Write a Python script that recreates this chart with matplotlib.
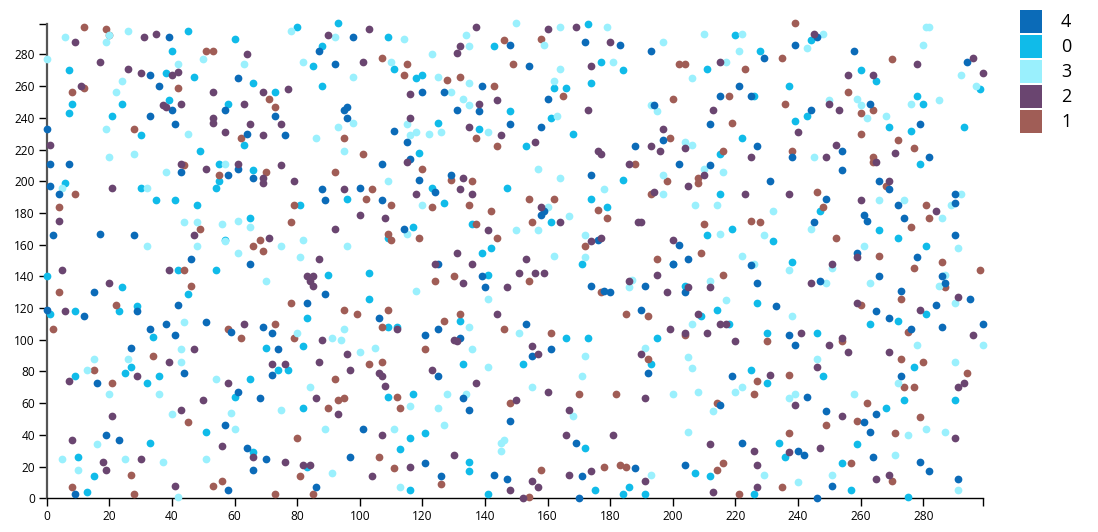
import matplotlib
matplotlib.use('Agg')
import matplotlib.pyplot as plt
from matplotlib.patches import Rectangle

# values, one pair of lists for each group
x4 = [39,33,61,36,40,57,33,73,41,64,0,1,7,43,61,58,66,
      98,148,87,92,139,76,120,127,131,138,96,95,96,148,111,115,107,116,129,119,
      172,183,193,154,160,221,215,225,194,158,212,197,188,227,202,212,174,
      246,239,229,258,294,263,279,244,254,238,282,254,231,266,
      1,4,2,17,28,46,65,15,42,29,0,12,38,51,69,72,59,33,41,
      88,100,124,89,107,114,125,139,140,89,83,106,121,125,132,
      158,159,176,202,205,200,225,227,191,204,174,178,180,190,153,
      269,249,272,290,290,261,262,274,245,290,259,278,266,286,287,247,273,295,284,233,265,269,286,299,276,237,
      27,74,44,72,16,61,68,57,19,23,64,70,66,9,58,
      125,133,135,148,101,97,121,143,147,126,86,
      155,161,192,219,215,222,169,171,188,204,170,
      239,243,273,249,265,261,263,240,242,264,279,282,291,251,246]
y4 = [291,267,265,260,245,245,241,241,236,230,233,211,211,206,208,204,202,
      291,286,282,274,260,229,256,256,245,244,247,245,240,236,232,225,211,214,204,201,
      288,286,282,273,252,260,254,254,248,234,236,226,222,222,211,210,204,
      291,286,278,282,275,249,236,245,219,215,215,207,200,200,
      197,192,166,167,166,151,148,130,122,118,119,115,110,111,108,104,105,107,103,
      195,196,193,188,188,170,148,140,133,129,123,114,103,107,101,
      179,181,163,160,151,148,147,136,134,130,134,131,130,119,110,
      195,189,185,192,186,179,175,177,174,166,155,152,140,140,136,137,131,126,122,121,118,114,108,110,107,103,
      95,94,79,78,73,67,63,46,40,37,32,25,18,3,5,
      77,63,56,49,44,26,22,15,12,14,7,
      90,94,79,77,59,35,35,14,19,21,0,
      97,64,77,55,53,48,42,30,27,26,23,17,12,8,0]

x0 = [45,40,60,38,47,66,73,7,8,7,24,21,39,58,30,63,49,55,66,
      80,93,109,143,88,85,111,118,120,88,148,125,138,119,
      173,228,177,184,211,220,162,166,174,226,161,168,222,153,215,184,
      244,260,265,237,278,280,298,243,239,269,276,293,279,
      6,30,54,55,35,41,48,65,57,0,42,54,24,45,29,23,1,9,34,
      123,147,96,127,81,117,136,109,142,139,90,103,141,103,83,132,109,112,
      215,174,179,161,219,211,171,200,204,227,214,209,218,166,173,195,
      247,266,272,232,281,238,281,272,263,230,246,
      70,74,27,25,9,36,32,65,60,51,33,66,10,15,13,
      82,133,77,109,117,82,121,116,113,83,135,135,116,141,
      152,193,225,172,207,212,175,184,186,191,226,
      277,248,230,274,290,268,234,259,236,254,257,275]
y0 = [295,282,290,268,266,262,256,270,249,243,249,241,251,249,229,223,219,211,207,
      297,300,291,285,285,273,271,265,267,260,244,237,233,218,
      299,282,275,270,271,292,259,259,262,254,240,230,227,222,217,201,
      289,270,263,260,254,249,258,241,238,234,232,234,211,
      199,196,196,200,188,188,185,177,163,140,144,144,133,129,121,118,116,118,102,
      196,196,189,186,185,171,173,164,158,155,141,142,141,126,114,112,108,108,
      192,189,184,174,170,166,148,148,134,123,119,115,110,101,101,101,
      181,169,164,162,159,149,116,112,110,104,104,
      95,81,83,79,77,77,73,75,64,42,35,29,26,14,4,
      96,85,81,64,66,57,41,38,31,20,23,17,5,3,
      85,85,81,32,16,14,5,3,7,3,3,
      83,77,73,62,62,57,35,34,26,22,5,1]

x3 = [6,20,19,26,50,63,0,42,24,22,19,45,20,28,57,38,
      78,92,114,134,150,135,82,110,123,98,125,135,129,133,135,98,93,115,116,118,122,126,141,86,95,109,
      164,179,159,197,210,222,221,164,181,217,206,162,193,195,163,204,206,157,210,216,197,164,
      248,243,281,282,280,292,297,250,259,260,262,268,276,285,245,
      5,32,44,48,56,61,65,57,32,48,61,75,70,44,
      120,115,150,82,96,81,118,141,135,95,80,91,94,151,
      178,197,207,214,160,167,157,215,172,172,162,222,226,187,186,212,217,206,
      266,274,292,289,232,286,244,229,261,291,237,251,287,285,263,249,290,238,
      43,43,26,15,13,54,20,36,40,59,75,60,16,5,25,37,51,10,42,
      105,100,136,141,84,128,134,116,125,127,89,111,146,145,145,91,113,
      191,172,205,206,171,155,222,220,200,208,213,168,205,193,
      278,299,246,290,272,237,239,258,271,281,275,287,229,251,240,291]
y3 = [291,292,288,295,277,274,277,274,263,256,233,230,215,217,211,206,
      295,291,290,292,300,285,275,275,280,266,266,262,256,252,248,237,234,236,229,231,230,231,231,227,219,200,
      297,297,286,288,293,293,282,271,275,275,265,263,248,244,241,225,223,208,208,206,204,202,
      293,284,297,297,286,267,260,251,252,248,240,241,249,251,215,
      196,196,174,174,173,175,171,162,159,159,155,159,137,111,
      185,167,169,163,159,152,131,126,108,107,104,101,100,104,
      195,192,185,185,184,178,169,167,166,152,153,153,148,138,133,137,125,110,
      188,188,192,185,181,177,170,166,159,158,144,145,141,134,136,136,123,115,
      94,86,88,88,81,75,66,66,53,54,56,44,34,25,25,23,25,18,1,
      95,92,94,83,70,66,66,58,57,46,44,44,37,35,30,16,7,
      95,90,89,82,77,70,70,67,66,67,55,52,42,15,
      97,97,88,86,73,63,66,66,27,44,40,42,15,15,10,5]

x2 = [9,31,35,64,17,26,30,40,42,11,53,69,37,38,43,63,53,53,57,65,75,69,1,43,51,61,75,69,
      90,103,137,132,131,101,77,116,138,144,116,135,145,115,133,79,
      160,169,180,174,215,173,213,197,156,193,196,204,176,177,186,225,210,
      245,278,296,256,264,299,250,253,240,252,271,249,265,269,
      21,69,4,47,71,5,39,20,6,63,
      95,132,136,118,100,108,92,141,87,131,124,136,83,85,84,85,133,147,151,144,112,88,130,
      205,194,223,158,164,189,190,177,174,200,153,156,159,195,186,205,212,198,208,215,217,199,204,211,220,
      237,260,284,259,251,244,291,259,279,296,241,254,
      47,39,72,7,29,58,50,21,43,8,56,66,30,18,19,41,
      96,131,87,76,97,123,106,107,108,137,86,93,107,130,76,82,84,116,104,148,150,
      155,157,160,191,190,167,166,181,212,226,167,174,191,227,155,157,152,213,227,
      250,256,269,246,231,239,254,247,237,291,293,290,269,265]
y2 = [288,291,293,280,275,271,268,267,269,260,256,256,248,247,249,249,240,237,231,236,236,229,223,211,208,211,210,202,
      292,296,297,285,281,275,258,255,249,251,240,234,229,212,202,200,
      296,297,288,273,275,245,245,233,225,222,219,221,219,217,211,215,204,
      293,274,278,267,267,268,249,245,231,223,218,215,212,200,
      196,199,175,166,164,144,144,136,118,110,
      195,195,192,192,179,177,170,169,151,155,148,148,140,140,137,134,136,133,142,116,107,100,100,
      197,193,192,184,174,174,174,164,162,163,151,142,142,141,137,133,133,130,116,110,110,107,104,104,99,
      192,188,181,152,148,136,127,123,119,103,104,101,
      94,86,85,74,77,73,62,52,56,37,33,26,25,23,18,8,
      91,99,86,85,81,81,79,77,71,73,63,53,40,27,23,21,21,20,14,5,62,
      96,91,67,63,91,56,40,40,34,30,15,17,11,21,11,7,0,4,7,
      97,92,92,83,78,59,52,32,29,70,73,38,15,12]

x1 = [12,19,20,51,53,12,8,42,71,73,28,62,44,70,55,
      146,107,115,149,114,128,132,143,137,95,144,101,92,120,129,136,
      158,202,204,223,165,218,200,219,199,216,188,208,198,
      239,235,270,256,236,260,264,260,272,277,238,264,264,
      9,4,49,68,66,69,44,4,46,22,73,58,62,2,
      104,102,110,123,135,142,79,78,137,144,119,109,110,130,124,78,95,99,109,132,127,146,107,79,
      208,193,154,162,176,179,155,210,225,228,172,209,195,216,154,177,185,192,204,161,
      268,246,248,281,282,276,252,266,286,277,298,287,273,260,275,230,
      34,15,21,45,27,53,56,8,28,73,
      121,103,107,92,112,95,93,90,113,148,80,106,111,81,126,85,
      192,227,170,182,226,214,158,178,183,185,214,216,154,221,
      237,273,280,294,274,277,262,259,249,279,237,271,257,270,235,254]
y1 = [297,296,292,282,282,259,256,259,252,247,233,227,210,206,204,
      289,278,274,274,267,264,266,260,227,227,222,217,206,208,201,200,
      290,274,274,271,254,254,252,237,227,219,211,202,200,
      300,278,277,256,249,243,245,230,226,221,219,215,212,
      192,184,170,163,159,156,144,130,134,122,110,107,101,107,
      195,189,185,184,185,181,185,174,173,164,164,167,163,140,137,123,119,116,119,116,112,107,108,101,
      199,192,189,189,182,177,174,173,175,174,159,155,151,141,137,130,116,115,103,104,
      197,193,184,185,177,171,164,153,149,145,144,133,126,122,105,99,
      90,81,73,48,15,8,11,7,3,3,
      94,85,86,75,64,63,62,57,57,60,38,26,19,14,9,3,
      88,74,66,66,66,60,18,20,21,20,18,22,1,3,
      78,88,86,79,70,70,60,49,46,51,41,41,22,11,7,99]

groups = ['4', '0', '3', '2', '1']
colors = ['#0b6bb8', '#10bbe9', '#9af0fd', '#6a4570', '#a05d56']
xs = [x4, x0, x3, x2, x1]
ys = [y4, y0, y3, y2, y1]
ticks = list(range(0, 281, 20))

W, H = 1098, 532
plt.rcParams['font.family'] = ['Open Sans', 'DejaVu Sans']
fig = plt.figure(figsize=(W / 100, H / 100), dpi=100)
ax = fig.add_axes([46.7 / W, 1 - 498.3 / H, 936 / W, 474 / H])

for i in [1, 4, 2, 0, 3]:
    ax.scatter(xs[i], ys[i], s=31, color=colors[i], linewidths=0, clip_on=False, zorder=3)

ax.set_xlim(0, 299)
ax.set_ylim(0, 299)
ax.set_xticks(ticks + [299])
ax.set_xticklabels([str(t) for t in ticks] + [''])
ax.set_yticks(ticks + [299])
ax.set_yticklabels([str(t) for t in ticks] + [''])
ax.tick_params(length=6, width=1, labelsize=8.6, pad=2.5, color='black')
ax.spines['top'].set_visible(False)
ax.spines['right'].set_visible(False)
ax.spines['left'].set_color('#555555')
ax.spines['left'].set_linewidth(1.6)
ax.spines['bottom'].set_linewidth(1)

# legend at the top right
for i, name in enumerate(groups):
    top = 10 + i * 25
    fig.add_artist(Rectangle((1020 / W, 1 - (top + 23) / H), 22 / W, 23 / H,
                             transform=fig.transFigure, color=colors[i], linewidth=0))
    fig.text(1061 / W, 1 - (top + 12) / H, name, fontsize=13, ha='left', va='center')

fig.savefig('out.png', dpi=100)
